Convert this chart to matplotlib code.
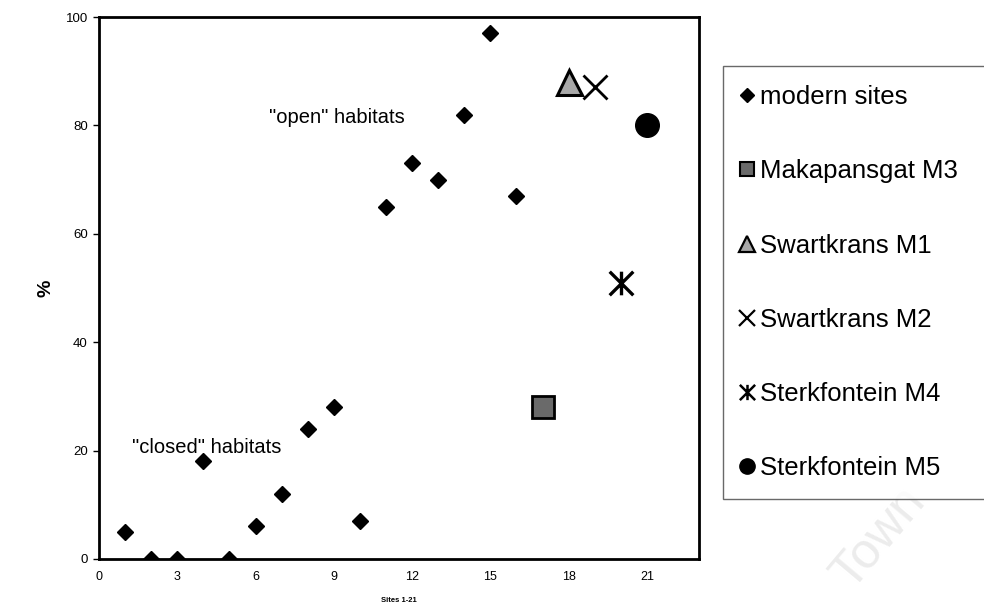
import numpy as np
from matplotlib import pyplot as plt
from matplotlib.path import Path

plt.rcParams['font.family'] = ['Liberation Sans', 'DejaVu Sans']

# modern sites 1-16
modern_x = [1, 2, 3, 4, 5, 6, 7, 8, 9, 10, 11, 12, 13, 14, 15, 16]
modern_y = [5, 0, 0, 18, 0, 6, 12, 24, 28, 7, 65, 73, 70, 82, 97, 67]

# fossil members, sites 17-21
fossil_names = ['Makapansgat M3', 'Swartkrans M1', 'Swartkrans M2',
                'Sterkfontein M4', 'Sterkfontein M5']
fossil_x = [17, 18, 19, 20, 21]
fossil_y = [28, 88, 87, 51, 80]

x_ticks = [0, 3, 6, 9, 12, 15, 18, 21]
y_ticks = [0, 20, 40, 60, 80, 100]

# asterisk = x with a vertical bar through it
star = Path([(0, 1), (0, -1), (-1, 1), (1, -1), (-1, -1), (1, 1)],
            [Path.MOVETO, Path.LINETO] * 3)

fig = plt.figure(figsize=(9.84, 6.08), dpi=100)
ax = fig.add_axes([0.1006, 0.0806, 0.6098, 0.8914])

ax.plot(modern_x, modern_y, 'D', color='black', markersize=8.5,
        linestyle='none', label='modern sites')

styles = [
    dict(marker='s', markersize=16, markerfacecolor='#6a6a6a', markeredgecolor='black', markeredgewidth=2),
    dict(marker='^', markersize=18, markerfacecolor='#a8a8a8', markeredgecolor='black', markeredgewidth=2.2),
    dict(marker='x', markersize=17, color='black', markeredgewidth=2),
    dict(marker=star, markersize=17, color='black', markeredgewidth=2.4),
    dict(marker='o', markersize=17, color='black'),
]
for name, xv, yv, st in zip(fossil_names, fossil_x, fossil_y, styles):
    ax.plot([xv], [yv], linestyle='none', label=name, **st)

ax.text(6.5, 81.5, '"open" habitats', fontsize=14.5, va='center', ha='left')
ax.text(1.25, 20.5, '"closed" habitats', fontsize=14.5, va='center', ha='left')

ax.set_xlim(0, 23)
ax.set_ylim(0, 100)
ax.set_xticks(x_ticks)
ax.set_yticks(y_ticks)
ax.tick_params(axis='x', length=0, pad=9, labelsize=9)
ax.tick_params(axis='y', length=4, width=1, pad=4, labelsize=9.5)
for sp in ax.spines.values():
    sp.set_linewidth(2)
ax.set_xlabel('Sites 1-21', fontsize=5.5, fontweight='bold', labelpad=10)
ax.set_ylabel('%', fontsize=14, fontweight='bold', labelpad=8)

leg = fig.legend(loc='upper left', bbox_to_anchor=(0.7348, 0.1, 0.4, 0.7914),
                 mode='expand', fontsize=18.5, markerscale=0.62,
                 labelspacing=1.95, borderpad=0.75, handlelength=0.4,
                 handletextpad=0.3, borderaxespad=0, fancybox=False,
                 frameon=True, numpoints=1)
leg.get_frame().set_edgecolor('#444444')
leg.get_frame().set_linewidth(1)
# legend symbols drawn a little smaller than in the plot
for h, ms, mew in zip(leg.legend_handles, [7.5, 10, 11, 11, 11, 11],
                      [1, 1.5, 1.6, 1.6, 1.8, 1]):
    h.set_markersize(ms)
    h.set_markeredgewidth(mew)

# faint watermark in the corner
fig.text(0.894, 0.115, 'Town', fontsize=36, color='#ececec', rotation=50,
         ha='center', va='center', zorder=0)

fig.savefig('out.png', dpi=100)
